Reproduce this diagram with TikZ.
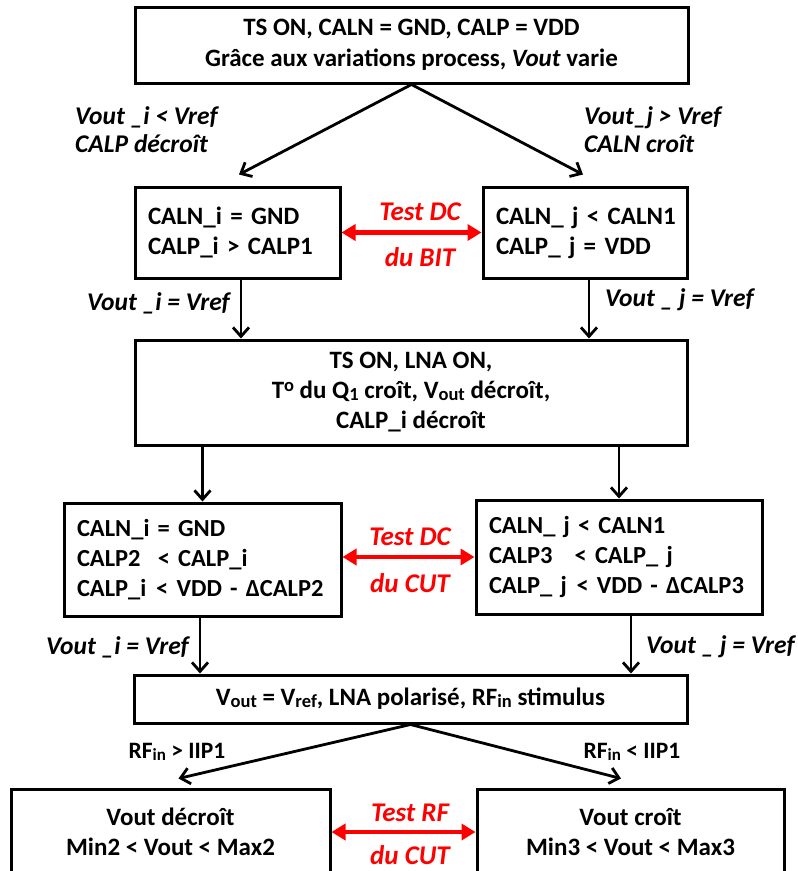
\documentclass[tikz,border=0pt]{standalone}
\usepackage{fontspec}
\setmainfont{Carlito}
\usetikzlibrary{arrows.meta,calc}
\newcommand{\lowsub}[2][18.5]{\raisebox{-1.5pt}{\fontsize{#1}{#1}\selectfont #2}}
\newcommand{\hisup}[2][18.5]{\raisebox{7pt}{\fontsize{#1}{#1}\selectfont #2}}
\begin{document}
\begin{tikzpicture}[x=1pt,y=-1pt,
  box/.style={draw, line width=3pt, rectangle, inner xsep=0pt, inner ysep=0pt, align=center,
    font=\bfseries\fontsize{25}{30}\selectfont},
  lbox/.style={box, align=left, inner xsep=13pt},
  arr/.style={line width=2.8pt, -{Straight Barb[length=9pt,width=16pt,line width=2.8pt]}},
  redarr/.style={line width=4.5pt, red, {Triangle[length=14pt,width=16pt]}-{Triangle[length=14pt,width=16pt]}},
  lab/.style={inner sep=0pt, align=left, font=\bfseries\itshape\fontsize{25.5}{28}\selectfont},
  nlab/.style={inner sep=0pt, align=left, font=\bfseries\fontsize{23.5}{28}\selectfont},
  rlab/.style={inner sep=0pt, text=red, font=\bfseries\itshape\fontsize{27}{28}\selectfont}]
\useasboundingbox (0,0) rectangle (798,871);
\clip (0,0) rectangle (798,871);

% boxes
\node[box, font=\bfseries\fontsize{25}{31}\selectfont, minimum width=553pt, minimum height=76pt] (b1) at (411.5,45)
  {TS ON, CALN = GND, CALP = VDD\\Grâce aux variations process, \textit{Vout} varie};
\node[lbox, minimum width=205pt, minimum height=91pt, text width=179pt] (b2L) at (237.5,232.5)
  {\mbox{CALN\_i = GND}\\\mbox{CALP\_i > CALP1}};
\node[lbox, minimum width=204pt, minimum height=91pt, text width=178pt] (b2R) at (585,232.5)
  {\mbox{CALN\_ j < CALN1}\\\mbox{CALP\_ j = VDD}};
\node[box, minimum width=552pt, minimum height=105pt] (b3) at (411,392.5)
  {TS ON, LNA ON,\\T\hisup{o} du Q\lowsub{1} croît, V\lowsub{out} décroît,\\CALP\_i décroît};
\node[lbox, font=\bfseries\fontsize{24.5}{30}\selectfont, minimum width=277pt, minimum height=113pt, text width=251pt] (b4L) at (202.5,559.5)
  {\mbox{CALN\_i = GND}\\\mbox{CALP2\hspace{0.7em}< CALP\_i}\\\mbox{CALP\_i\hspace{0.4em}< VDD - ΔCALP2}};
\node[lbox, font=\bfseries\fontsize{24.5}{30}\selectfont, minimum width=286pt, minimum height=114pt, text width=260pt] (b4R) at (619,557)
  {\mbox{CALN\_ j < CALN1}\\\mbox{CALP3\hspace{0.9em}< CALP\_ j}\\\mbox{CALP\_ j\hspace{0.4em}< VDD - ΔCALP3}};
\node[box, minimum width=553pt, minimum height=48pt] (b5) at (410.5,699)
  {V\lowsub{out} = V\lowsub{ref}, LNA polarisé, RF\lowsub{in} stimulus};
\node[box, minimum width=319pt, minimum height=86pt] (b6L) at (170.5,832)
  {Vout décroît\\Min2 < Vout < Max2};
\node[box, minimum width=307pt, minimum height=86pt] (b6R) at (630.5,832)
  {Vout croît\\Min3 < Vout < Max3};

% black arrows
\draw[arr] (b1.south) -- ([xshift=1.5pt,yshift=11pt]b2L.north);
\draw[arr] (b1.south) -- ([xshift=-2pt,yshift=11pt]b2R.north);
\draw[arr] ([xshift=3.5pt]b2L.south) -- ([xshift=3.5pt]b2L.south |- b3.north);
\draw[arr] ([xshift=4pt]b2R.south) -- ([xshift=4pt]b2R.south |- b3.north);
\draw[arr] (b4L.north |- b3.south) -- (b4L.north);
\draw[arr] (b4R.north |- b3.south) -- (b4R.north);
\draw[arr] ([xshift=-2.5pt]b4L.south) -- ([xshift=-2.5pt]b4L.south |- b5.north);
\draw[arr] ([xshift=12pt]b4R.south) -- ([xshift=12pt]b4R.south |- b5.north);
\draw[arr] (b5.south) -- ([xshift=8pt,yshift=9pt]b6L.north);
\draw[arr] (b5.south) -- ([xshift=-9.5pt,yshift=9pt]b6R.north);

% red double arrows
\draw[redarr] (b2L.east) -- (b2R.west);
\draw[redarr] (b4L.east |- b4R.west) -- (b4R.west);
\draw[redarr] (b6L.east) -- (b6R.west);

% labels
\node[lab, anchor=west] (l1) at (75,130) {Vout \_i < Vref\\CALP décroît};
\node[lab, anchor=west] (l2) at (584,130) {Vout\_j > Vref\\CALN croît};
\node[lab, anchor=east] (l3) at (230,303) {Vout \_i = Vref};
\node[lab, anchor=west] (l4) at (605,300) {Vout \_ j = Vref};
\node[lab, anchor=east] (l5) at (189,647) {Vout \_i = Vref};
\node[lab, anchor=west] (l6) at (646,647) {Vout \_ j = Vref};
\node[nlab] (l7) at (177,752) {RF\lowsub[17]{in} > IIP1};
\node[nlab] (l8) at (632,752) {RF\lowsub[17]{in} < IIP1};

\node[rlab] (r1) at (420,212) {Test DC};
\node[rlab] (r2) at (420,257) {du BIT};
\node[rlab] (r3) at (410,537) {Test DC};
\node[rlab] (r4) at (410,583) {du CUT};
\node[rlab] (r5) at (410,813) {Test RF};
\node[rlab] (r6) at (410,855) {du CUT};
\end{tikzpicture}
\end{document}
